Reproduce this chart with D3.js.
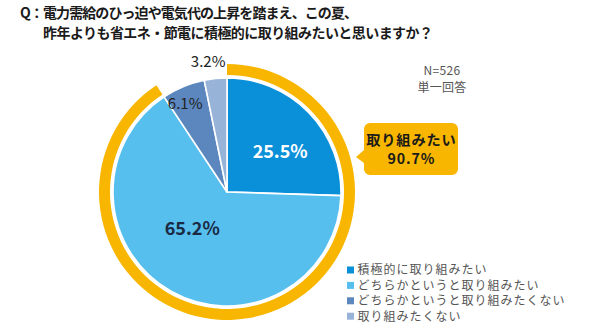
<!DOCTYPE html>
<html><head><meta charset="utf-8">
<script src="https://cdn.jsdelivr.net/npm/d3@7"></script>
<style>
html,body{margin:0;padding:0;background:#fff;}
svg{display:block;font-family:"Noto Sans CJK JP","Noto Sans",sans-serif;}
</style></head>
<body><svg id="c" width="589" height="334"></svg>
<script>
const titleLines = ["Q：電力需給のひっ迫や電気代の上昇を踏まえ、この夏、", "昨年よりも省エネ・節電に積極的に取り組みたいと思いますか？"];
const categories = ["積極的に取り組みたい", "どちらかというと取り組みたい", "どちらかというと取り組みたくない", "取り組みたくない"];
const values = [25.5, 65.2, 6.1, 3.2];
const colors = ["#0A90D9", "#56BFEE", "#5B86BE", "#97B4D8"];
const noteLines = ["N=526", "単一回答"];
const calloutLines = ["取り組みたい", "90.7%"];
const positiveShare = 90.7;

const svg = d3.select("#c");
const cx = 227, cy = 192, r = 114;

// title
const t = svg.append("text").attr("font-size", 14).attr("font-weight", 700).attr("fill", "#1a1a1a");
t.append("tspan").attr("x", 20).attr("y", 18).attr("textLength", 338).attr("lengthAdjust", "spacing").text(titleLines[0]);
t.append("tspan").attr("x", 43).attr("y", 38).attr("textLength", 390).attr("lengthAdjust", "spacing").text(titleLines[1]);

const g = svg.append("g").attr("transform", `translate(${cx},${cy})`);

// orange ring
const ringScale = d3.scaleLinear().domain([0, 100]).range([0, 2 * Math.PI]);
g.append("path")
  .attr("d", d3.arc().innerRadius(117).outerRadius(128).startAngle(0).endAngle(ringScale(positiveShare))())
  .attr("fill", "#F8B600");

// pie
const pie = d3.pie().sort(null).value(d => d)(values);
const arc = d3.arc().innerRadius(0).outerRadius(r);
g.selectAll("path.s").data(pie).join("path").attr("class", "s")
  .attr("d", arc).attr("fill", (d, i) => colors[i])
  .attr("stroke", "#fff").attr("stroke-width", 1.6).attr("stroke-linejoin", "round");

// labels: radius and angular shift (degrees) relative to slice middle
const labelPos = [
  { r: 68, da: 5.5, fill: "#fff", w: 700, fs: 18 },
  { r: 49, da: 16, fill: "#1b2a44", w: 700, fs: 18 },
  { r: 99, da: -2.5, fill: "#222", w: 400, fs: 15 },
  { r: 133, da: -2.4, fill: "#222", w: 400, fs: 15 }
];
const fmt = d3.format(".1f");
g.selectAll("text.l").data(pie).join("text").attr("class", "l")
  .attr("transform", (d, i) => {
    const a = (d.startAngle + d.endAngle) / 2 + labelPos[i].da * Math.PI / 180;
    const x = labelPos[i].r * Math.sin(a), y = -labelPos[i].r * Math.cos(a);
    return `translate(${x},${y})`;
  })
  .attr("text-anchor", "middle").attr("dominant-baseline", "central")
  .attr("font-size", (d, i) => labelPos[i].fs).attr("font-weight", (d, i) => labelPos[i].w)
  .attr("fill", (d, i) => labelPos[i].fill)
  .text(d => fmt(d.data) + "%");

// note
const nt = svg.append("text").attr("text-anchor", "middle").attr("font-size", 12).attr("letter-spacing", 0.3).attr("fill", "#555");
nt.append("tspan").attr("x", 442).attr("y", 75).text(noteLines[0]);
nt.append("tspan").attr("x", 442).attr("y", 92).text(noteLines[1]);

// callout
const bx = 364, by = 123, bw = 94, bh = 52, br = 6;
const cp = d3.path();
cp.moveTo(bx + br, by);
cp.lineTo(bx + bw - br, by);
cp.arcTo(bx + bw, by, bx + bw, by + br, br);
cp.lineTo(bx + bw, by + bh - br);
cp.arcTo(bx + bw, by + bh, bx + bw - br, by + bh, br);
cp.lineTo(bx + br, by + bh);
cp.arcTo(bx, by + bh, bx, by + bh - br, br);
cp.lineTo(bx, by + 40);
cp.lineTo(bx - 8, by + 34);
cp.lineTo(bx, by + 27);
cp.lineTo(bx, by + br);
cp.arcTo(bx, by, bx + br, by, br);
cp.closePath();
svg.append("path").attr("d", cp.toString()).attr("fill", "#F8B600");
const ct = svg.append("text").attr("text-anchor", "middle")
  .attr("font-size", 14.2).attr("font-weight", 700).attr("letter-spacing", 0.9).attr("fill", "#1a1a1a");
ct.selectAll("tspan").data(calloutLines).join("tspan")
  .attr("x", bx + bw / 2 + 0.45).attr("y", (d, i) => by + 22 + i * 19.2).text(d => d);

// legend
const lg = svg.append("g").attr("transform", "translate(347,270)");
lg.selectAll("rect").data(categories).join("rect")
  .attr("x", 0).attr("y", (d, i) => i * 15.4 - 3.5).attr("width", 7).attr("height", 7)
  .attr("fill", (d, i) => colors[i]);
const lt = lg.append("text").attr("font-size", 12).attr("letter-spacing", 1).attr("fill", "#555");
lt.selectAll("tspan").data(categories).join("tspan")
  .attr("x", 10.5).attr("y", (d, i) => i * 15.4 + 4.3).text(d => d);
</script></body></html>
